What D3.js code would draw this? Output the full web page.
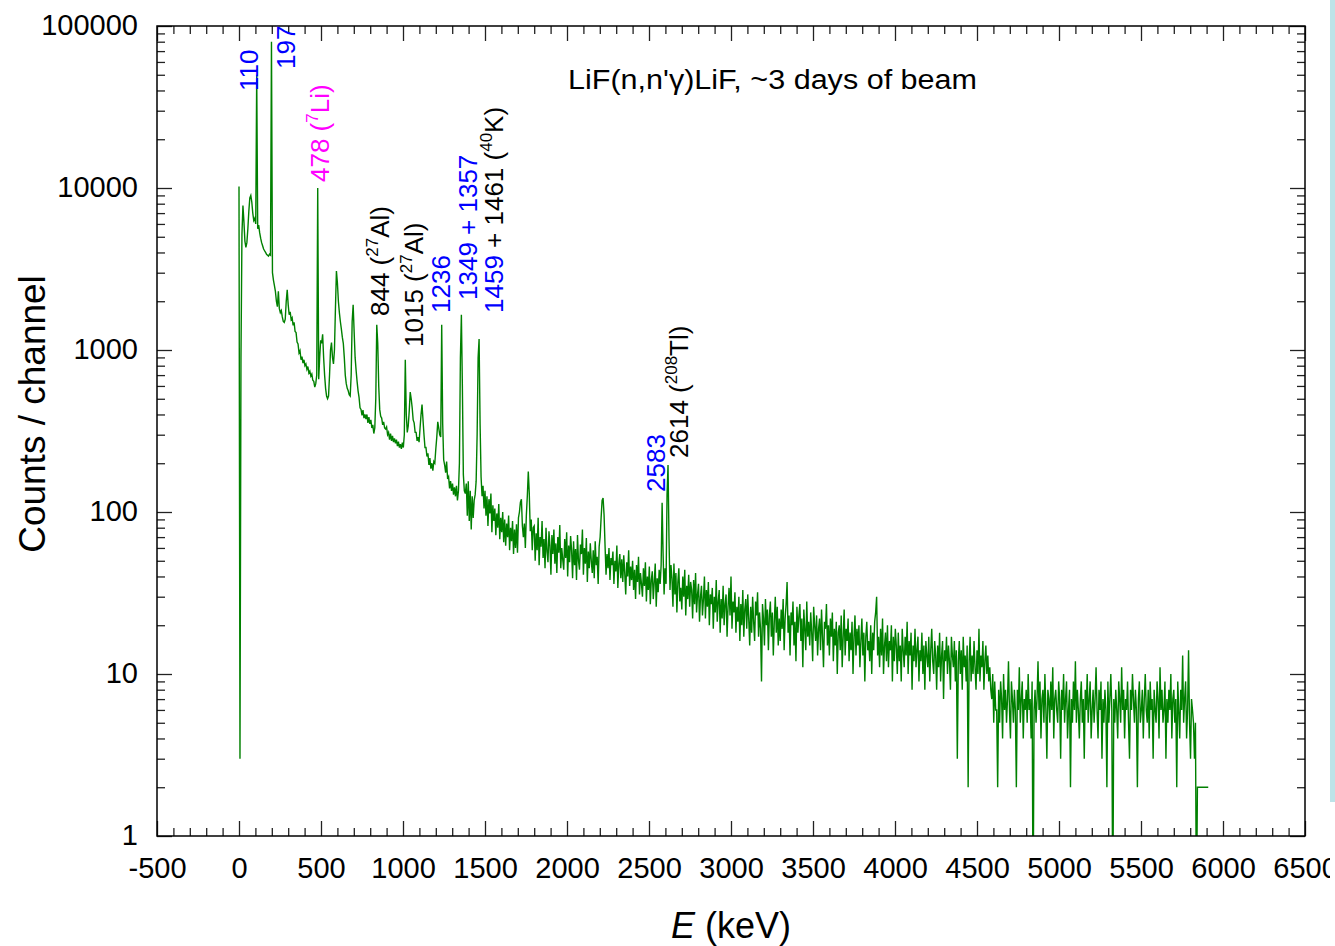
<!DOCTYPE html>
<html>
<head>
<meta charset="utf-8">
<script src="https://cdn.jsdelivr.net/npm/d3@7"></script>
<style>
  body { margin: 0; background: #fff; }
  svg { display: block; font-family: "Liberation Sans", Arial, sans-serif; }
</style>
</head>
<body>
<svg id="chart" width="1335" height="946"></svg>
<script>
// LiF(n,n'g)LiF gamma spectrum, counts (one sample every 6 keV from 0 keV)
var energyStep = 6;
var counts = [
  // 0
  10200, 3, 900, 5200, 7800, 6200, 4700, 4300, 4600, 5600,
  // 60
  7200, 8700, 9000, 8200, 7000, 6300, 6500, 6000, 50000, 5600,
  // 120
  5900, 5300, 4900, 4600, 4400, 4200, 4100, 4000, 3900, 3850,
  // 180
  3800, 3900, 3850, 80000, 3000, 2700, 2500, 2300, 2000, 1850,
  // 240
  2300, 1800, 1700, 1750, 1600, 1500, 1480, 1550, 2000, 2350,
  // 300
  1900, 1650, 1720, 1540, 1580, 1420, 1480, 1300, 1280, 1120,
  // 360
  1090, 960, 990, 870, 910, 830, 870, 800, 820, 760,
  // 420
  790, 720, 740, 690, 710, 650, 640, 590, 620, 700,
  // 480
  10000, 660, 900, 1150, 1100, 1250, 900, 700, 580, 520,
  // 540
  500, 520, 700, 1000, 1110, 900, 820, 1000, 1800, 3070,
  // 600
  2600, 2000, 1700, 1500, 1350, 1200, 1100, 900, 700, 620,
  // 660
  580, 560, 530, 520, 700, 1500, 1900, 1300, 900, 750,
  // 720
  640, 560, 510, 440, 430, 395, 425, 380, 400, 375,
  // 780
  400, 355, 385, 350, 370, 330, 345, 305, 330, 500,
  // 840
  1430, 1100, 600, 430, 390, 380, 345, 360, 330, 325,
  // 900
  335, 300, 310, 280, 305, 275, 295, 270, 285, 265,
  // 960
  280, 255, 272, 250, 262, 245, 268, 250, 300, 870,
  // 1020
  400, 310, 340, 420, 550, 500, 440, 370, 355, 310,
  // 1080
  310, 275, 290, 270, 330, 400, 460, 370, 300, 250,
  // 1140
  250, 220, 230, 195, 215, 185, 200, 180, 205, 200,
  // 1200
  245, 290, 360, 330, 300, 290, 1430, 350, 210, 195,
  // 1260
  175, 205, 160, 165, 140, 155, 135, 150, 128, 142,
  // 1320
  125, 145, 118, 135, 200, 900, 1650, 600, 170, 135,
  // 1380
  130, 150, 95, 155, 88, 135, 78, 125, 92, 118,
  // 1440
  128, 155, 300, 900, 1170, 350, 165, 125, 145, 105,
  // 1500
  135, 95, 125, 82, 120, 98, 130, 75, 110, 88,
  // 1560
  105, 72, 98, 80, 112, 68, 92, 75, 100, 65,
  // 1620
  90, 62, 85, 70, 95, 58, 80, 66, 88, 55,
  // 1680
  78, 60, 84, 56, 92, 100, 115, 120, 82, 70,
  // 1740
  85, 60, 95, 125, 178, 130, 76, 90, 58, 80,
  // 1800
  82, 50, 74, 58, 92, 47, 70, 61, 88, 52,
  // 1860
  68, 45, 80, 57, 49, 76, 62, 41, 72, 55,
  // 1920
  78, 48, 64, 42, 70, 56, 83, 45, 60, 51,
  // 1980
  44, 68, 52, 75, 40, 62, 49, 71, 58, 39,
  // 2040
  66, 47, 59, 38, 72, 50, 44, 63, 55, 78,
  // 2100
  41, 60, 48, 69, 37, 57, 45, 64, 50, 42,
  // 2160
  58, 39, 66, 47, 53, 36, 61, 70, 92, 118,
  // 2220
  122, 96, 62, 41, 55, 45, 60, 38, 52, 47,
  // 2280
  57, 36, 50, 43, 62, 34, 48, 55, 39, 51,
  // 2340
  37, 54, 42, 31, 49, 40, 58, 35, 46, 38,
  // 2400
  50, 33, 44, 29, 47, 37, 53, 31, 42, 36,
  // 2460
  30, 45, 35, 49, 28, 40, 33, 46, 27, 38,
  // 2520
  43, 29, 37, 48, 26, 39, 32, 44, 36, 47,
  // 2580
  114, 55, 31, 45, 36, 128, 195, 68, 33, 47,
  // 2640
  39, 26, 48, 31, 42, 24, 37, 45, 28, 34,
  // 2700
  25, 40, 30, 44, 23, 35, 29, 41, 26, 37,
  // 2760
  33, 22, 38, 27, 42, 24, 31, 36, 21, 30,
  // 2820
  35, 23, 29, 40, 22, 33, 26, 37, 20, 31,
  // 2880
  27, 34, 19, 30, 24, 38, 21, 28, 33, 18,
  // 2940
  29, 22, 35, 20, 27, 31, 17, 26, 34, 23,
  // 3000
  40, 19, 28, 24, 32, 18, 26, 21, 30, 16,
  // 3060
  27, 20, 33, 17, 25, 29, 19, 31, 22, 15,
  // 3120
  26, 18, 30, 21, 16, 28, 23, 32, 17, 24,
  // 3180
  19, 9, 27, 22, 15, 29, 20, 25, 14, 23,
  // 3240
  28, 17, 24, 13, 21, 30, 18, 26, 15, 22,
  // 3300
  16, 25, 19, 29, 14, 22, 27, 37, 18, 23,
  // 3360
  13, 24, 20, 28, 15, 21, 12, 26, 18, 23,
  // 3420
  27, 16, 22, 11, 25, 19, 14, 28, 17, 21,
  // 3480
  15, 24, 18, 12, 26, 20, 16, 23, 13, 19,
  // 3540
  22, 14, 25, 17, 11, 21, 19, 27, 15, 20,
  // 3600
  13, 22, 17, 24, 12, 19, 15, 21, 10, 18,
  // 3660
  20, 14, 23, 11, 17, 25, 13, 19, 16, 22,
  // 3720
  12, 18, 14, 21, 10, 17, 23, 13, 19, 15,
  // 3780
  20, 11, 16, 22, 13, 18, 9, 17, 21, 14,
  // 3840
  16, 12, 20, 10, 18, 14, 21, 24, 30, 13,
  // 3900
  17, 11, 19, 13, 22, 10, 15, 18, 12, 20,
  // 3960
  11, 16, 14, 20, 9, 17, 12, 19, 15, 10,
  // 4020
  18, 12, 15, 9, 19, 14, 11, 17, 13, 21,
  // 4080
  10, 16, 13, 18, 8, 15, 12, 19, 11, 14,
  // 4140
  17, 9, 14, 12, 18, 10, 15, 8, 16, 13,
  // 4200
  11, 17, 9, 14, 19, 12, 10, 16, 13, 8,
  // 4260
  15, 11, 18, 9, 13, 16, 7, 14, 12, 17,
  // 4320
  10, 15, 12, 8, 17, 13, 11, 16, 9, 14,
  // 4380
  3, 12, 16, 10, 14, 8, 17, 11, 13, 9,
  // 4440
  15, 2, 12, 17, 9, 13, 10, 16, 11, 8,
  // 4500
  14, 10, 19, 9, 13, 11, 16, 8, 12, 15,
  // 4560
  10, 13, 9, 11, 8, 7, 10, 5, 9, 6,
  // 4620
  6, 2, 8, 5, 9, 7, 4, 10, 6, 8,
  // 4680
  5, 7, 12, 6, 4, 9, 7, 5, 8, 6,
  // 4740
  2, 8, 6, 11, 5, 7, 9, 4, 7, 6,
  // 4800
  8, 5, 10, 6, 7, 4, 9, 0, 6, 8,
  // 4860
  5, 7, 12, 6, 9, 4, 7, 8, 5, 10,
  // 4920
  6, 3, 8, 7, 5, 9, 6, 11, 4, 7,
  // 4980
  8, 6, 5, 9, 7, 3, 8, 6, 10, 5,
  // 5040
  7, 9, 4, 6, 8, 2, 7, 5, 9, 6,
  // 5100
  12, 5, 8, 6, 4, 7, 9, 5, 7, 3,
  // 5160
  8, 6, 10, 5, 7, 9, 4, 6, 8, 5,
  // 5220
  7, 11, 6, 4, 8, 6, 9, 3, 7, 5,
  // 5280
  8, 6, 2, 9, 5, 7, 10, 6, 0, 7,
  // 5340
  5, 8, 6, 4, 9, 7, 5, 11, 6, 8,
  // 5400
  4, 7, 6, 9, 5, 3, 8, 6, 10, 7,
  // 5460
  5, 8, 6, 2, 7, 9, 5, 6, 8, 4,
  // 5520
  7, 10, 6, 5, 8, 4, 9, 6, 7, 3,
  // 5580
  8, 6, 5, 9, 7, 4, 11, 6, 8, 5,
  // 5640
  6, 9, 3, 7, 5, 8, 6, 10, 4, 7,
  // 5700
  8, 5, 7, 2, 9, 6, 4, 8, 6, 13,
  // 5760
  5, 7, 9, 4, 6, 14, 5, 3, 7, 6,
  // 5820
  5, 3, 5, 0, 2, 2, 2, 2, 2, 2,
  // 5880
  2, 2, 2, 2, 2, 2
];

var xTickValues = [-500, 0, 500, 1000, 1500, 2000, 2500, 3000, 3500, 4000, 4500, 5000, 5500, 6000, 6500];
var yTickValues = [1, 10, 100, 1000, 10000, 100000];

var titleText = "LiF(n,n'\u03b3)LiF, ~3 days of beam";

// peak annotations: pieces of text, colour key, superscript flag
var peakLabels = [
  [["110", "b"]],
  [["197", "b"]],
  [["478 (", "m"], ["7", "m", 1], ["Li)", "m"]],
  [["844 (", "k"], ["27", "k", 1], ["Al)", "k"]],
  [["1015 (", "k"], ["27", "k", 1], ["Al)", "k"]],
  [["1236", "b"]],
  [["1349 + 1357", "b"]],
  [["1459", "b"], [" + 1461 (", "k"], ["40", "k", 1], ["K)", "k"]],
  [["2583", "b"]],
  [["2614 (", "k"], ["208", "k", 1], ["Tl)", "k"]]
];
// baseline x, start y of each rotated annotation
var peakLabelPos = [[258, 91], [295, 69], [329, 182], [389, 316], [423, 347],
                    [450, 313], [477, 300], [503, 313], [665, 492], [688, 458]];
var labelColors = { b: "#0000ff", m: "#ff00ff", k: "#000000" };

var svg = d3.select("#chart");
var margin = { left: 157, top: 26, right: 1305, bottom: 836 };

var x = d3.scaleLinear().domain([-500, 6500]).range([margin.left, margin.right]);
var y = d3.scaleLog().domain([1, 100000]).range([margin.bottom, margin.top]);

var xMinor = d3.range(-500, 6501, 100).filter(function(v) { return v % 500 !== 0; });
var yMinor = [];
yTickValues.slice(0, -1).forEach(function(d) {
  for (var m = 2; m <= 9; m++) yMinor.push(d * m);
});

svg.append("defs").append("clipPath").attr("id", "plotclip")
  .append("rect")
  .attr("x", margin.left).attr("y", margin.top)
  .attr("width", margin.right - margin.left).attr("height", margin.bottom - margin.top);

// spectrum
var line = d3.line()
  .x(function(d, i) { return x(i * energyStep); })
  .y(function(d) { return y(Math.max(d, 0.3)); });

svg.append("path")
  .datum(counts)
  .attr("clip-path", "url(#plotclip)")
  .attr("fill", "none")
  .attr("stroke", "#008000")
  .attr("stroke-width", 1.4)
  .attr("d", line);

// axes, ticks pointing inwards
function styleAxis(g) {
  g.select(".domain").remove();
  g.selectAll(".tick line").attr("stroke", "#222").attr("stroke-width", 1.3);
  g.selectAll("text").attr("font-size", 29).attr("fill", "#000")
    .attr("font-family", "'Liberation Sans', Arial, sans-serif");
}
var plainNumber = function(d) { return String(d); };

svg.append("g").attr("transform", "translate(0," + margin.bottom + ")")
  .call(d3.axisBottom(x).tickValues(xMinor).tickSize(-8).tickFormat(""))
  .call(styleAxis);
svg.append("g").attr("transform", "translate(0," + margin.bottom + ")")
  .call(d3.axisBottom(x).tickValues(xTickValues).tickSize(-15).tickPadding(21).tickFormat(plainNumber))
  .call(styleAxis);
svg.append("g").attr("transform", "translate(0," + margin.top + ")")
  .call(d3.axisTop(x).tickValues(xMinor).tickSize(-8).tickFormat(""))
  .call(styleAxis);
svg.append("g").attr("transform", "translate(0," + margin.top + ")")
  .call(d3.axisTop(x).tickValues(xTickValues).tickSize(-15).tickFormat(""))
  .call(styleAxis);

svg.append("g").attr("transform", "translate(" + margin.left + ",0)")
  .call(d3.axisLeft(y).tickValues(yMinor).tickSize(-8).tickFormat(""))
  .call(styleAxis);
svg.append("g").attr("transform", "translate(" + margin.left + ",0)")
  .call(d3.axisLeft(y).tickValues(yTickValues).tickSize(-15).tickPadding(19).tickFormat(plainNumber))
  .call(styleAxis)
  .selectAll("text").attr("dy", "0.28em");
svg.append("g").attr("transform", "translate(" + margin.right + ",0)")
  .call(d3.axisRight(y).tickValues(yMinor).tickSize(-8).tickFormat(""))
  .call(styleAxis);
svg.append("g").attr("transform", "translate(" + margin.right + ",0)")
  .call(d3.axisRight(y).tickValues(yTickValues).tickSize(-15).tickFormat(""))
  .call(styleAxis);

// frame
svg.append("rect")
  .attr("x", margin.left).attr("y", margin.top)
  .attr("width", margin.right - margin.left).attr("height", margin.bottom - margin.top)
  .attr("fill", "none").attr("stroke", "#000").attr("stroke-width", 1.5);

// axis titles
svg.append("text")
  .attr("transform", "translate(45," + 414 + ") rotate(-90)")
  .attr("text-anchor", "middle")
  .attr("font-size", 37)
  .text("Counts / channel");

var xTitle = svg.append("text")
  .attr("x", (margin.left + margin.right) / 2).attr("y", 938)
  .attr("text-anchor", "middle")
  .attr("font-size", 36);
xTitle.append("tspan").attr("font-style", "italic").text("E");
xTitle.append("tspan").text(" (keV)");

// title inside the frame
svg.append("text")
  .attr("x", 568).attr("y", 89)
  .attr("font-size", 27)
  .attr("textLength", 409).attr("lengthAdjust", "spacingAndGlyphs")
  .text(titleText);

// peak annotations
peakLabels.forEach(function(parts, i) {
  var p = peakLabelPos[i];
  var t = svg.append("text")
    .attr("transform", "translate(" + p[0] + "," + p[1] + ") rotate(-90)")
    .attr("font-size", 26);
  var raised = false;
  parts.forEach(function(part) {
    var sp = t.append("tspan").attr("fill", labelColors[part[1]]).text(part[0]);
    if (part[2]) {
      sp.attr("font-size", 17).attr("dy", -11);
      raised = true;
    } else if (raised) {
      sp.attr("dy", 11);
      raised = false;
    }
  });
});

// strip on the right edge of the picture
svg.append("rect").attr("x", 1330).attr("y", 802).attr("width", 5).attr("height", 144).attr("fill", "#fff");
svg.append("rect").attr("x", 1330).attr("y", 0).attr("width", 5).attr("height", 802).attr("fill", "#bde3e8");
</script>
</body>
</html>
